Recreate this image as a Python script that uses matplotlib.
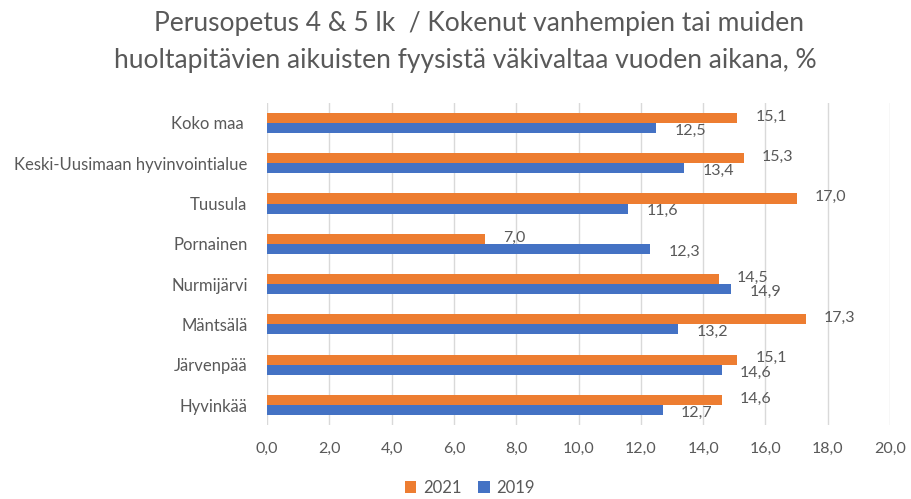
import matplotlib
matplotlib.use("Agg")
import matplotlib.pyplot as plt
import numpy as np

categories = ["Koko maa ", "Keski-Uusimaan hyvinvointialue", "Tuusula", "Pornainen",
              "Nurmijärvi", "Mäntsälä", "Järvenpää", "Hyvinkää"]
values_2021 = [15.1, 15.3, 17.0, 7.0, 14.5, 17.3, 15.1, 14.6]
values_2019 = [12.5, 13.4, 11.6, 12.3, 14.9, 13.2, 14.6, 12.7]
xticks = [0, 2, 4, 6, 8, 10, 12, 14, 16, 18, 20]

ORANGE = "#ED7D31"
BLUE = "#4472C4"
TXT = "#595959"
plt.rcParams['font.family'] = ['Lato', 'DejaVu Sans']

fig = plt.figure(figsize=(9.12, 4.99), dpi=100)
ax = fig.add_axes([0.2928, 0.148, 0.976 - 0.2928, 0.646])

y = np.arange(len(categories))
h = 0.25
b1 = ax.barh(y - h / 2, values_2021, height=h, color=ORANGE, label="2021", zorder=3)
b2 = ax.barh(y + h / 2, values_2019, height=h, color=BLUE, label="2019", zorder=3)

for v, yy in zip(values_2021, y - h / 2):
    ax.annotate(f"{v:.1f}".replace(".", ","), (v, yy), xytext=(13, 1), textcoords="offset points",
                ha="left", va="center", fontsize=11.5, color=TXT)
for v, yy in zip(values_2019, y + h / 2):
    ax.annotate(f"{v:.1f}".replace(".", ","), (v, yy), xytext=(13, -2), textcoords="offset points",
                ha="left", va="center", fontsize=11.5, color=TXT)

ax.set_xlim(0, 20)
ax.set_ylim(len(categories) - 0.5, -0.5)
ax.set_xticks(xticks)
ax.set_xticklabels([f"{t:.1f}".replace(".", ",") for t in xticks], fontsize=11.5, color=TXT)
ax.set_yticks(y)
ax.set_yticklabels(categories, fontsize=12, color=TXT)
ax.tick_params(axis="both", length=0)
ax.tick_params(axis="x", pad=12)
ax.tick_params(axis="y", pad=14)
ax.grid(axis="x", color="#D9D9D9", linewidth=1, zorder=0)
for s in ax.spines.values():
    s.set_visible(False)

fig.text(0.525, 0.953, "Perusopetus 4 & 5 lk  / Kokenut vanhempien tai muiden", ha="center", va="center",
         fontsize=19, color=TXT)
fig.text(0.51, 0.878, "huoltapitävien aikuisten fyysistä väkivaltaa vuoden aikana, %", ha="center", va="center",
         fontsize=19, color=TXT)

fig.legend(handles=[b1, b2], labels=["2021", "2019"], loc="center", bbox_to_anchor=(0.515, 0.022),
           ncol=2, frameon=False, fontsize=12, handlelength=0.7, handleheight=0.7,
           columnspacing=1.0, handletextpad=0.4, labelcolor=TXT)

fig.savefig("out.png", dpi=100)
